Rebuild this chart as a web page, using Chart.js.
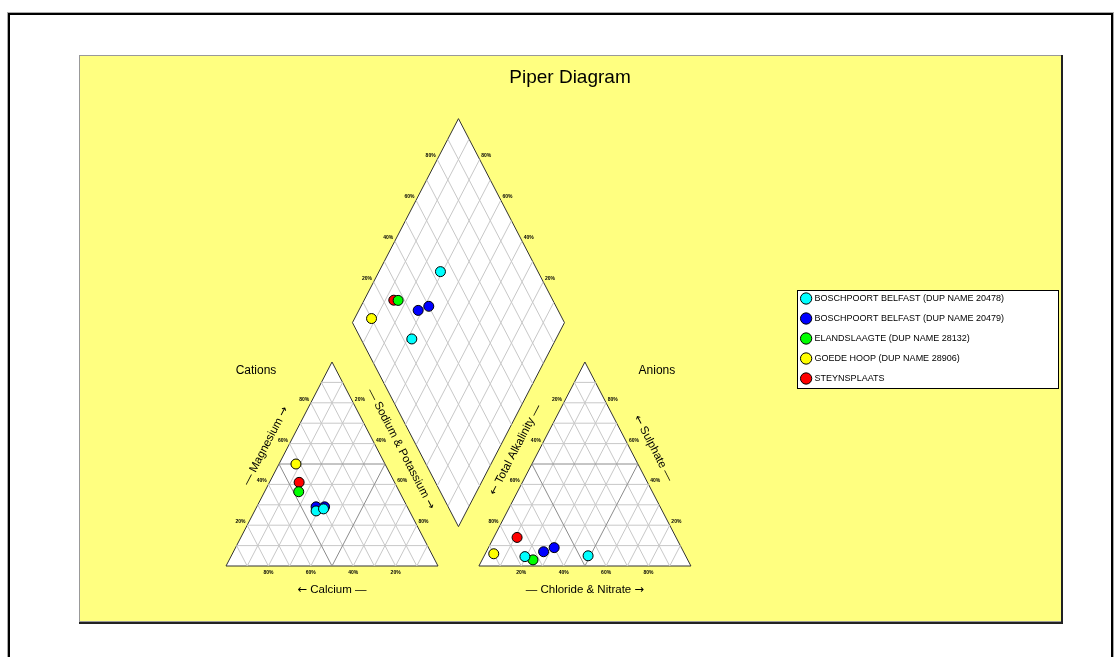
<!DOCTYPE html>
<html>
<head>
<meta charset="utf-8">
<title>Piper Diagram</title>
<script src="https://cdn.jsdelivr.net/npm/chart.js@4"></script>
<style>
  html, body { margin: 0; padding: 0; background: #fff; }
  #wrap { width: 1120px; height: 657px; }
</style>
</head>
<body>
<div id="wrap"><canvas id="piperChart"></canvas></div>
<script>
const samples = [
    'BOSCHPOORT BELFAST (DUP NAME 20478)',
    'BOSCHPOORT BELFAST (DUP NAME 20479)',
    'ELANDSLAAGTE (DUP NAME 28132)',
    'GOEDE HOOP (DUP NAME 28906)',
    'STEYNSPLAATS'
];
const colors = ['#00ffff', '#0000ff', '#00ff00', '#ffff00', '#ff0000'];

// one entry per analysis (meq %), sampleOf points into samples
const sampleOf        = [0, 0, 1, 1, 2, 3, 4];
const calcium         = [44, 40, 43, 39, 47.5, 42, 45];
const magnesium       = [27, 28, 29, 29, 36.4, 50, 41];
const sodiumPotassium = [29, 32, 28, 32, 16.1, 8, 14];
const alkalinity      = [46, 76, 66, 60, 73, 90, 75];
const sulphate        = [5, 4.6, 7, 9, 3, 6, 14];
const chlorideNitrate = [49, 19.4, 27, 31, 24, 4, 11];

const tickValues = [20, 40, 60, 80];

// layout: pixel of the 100% calcium corner, pixels per triangle width / height
const X0 = 226, Y0 = 566, PX = 212, PY = 204;
const GAP = 0.193; // gap between the two triangles (in triangle widths)
const AN = 1 + GAP; // x offset of the anion triangle

// ternary helpers, in triangle units (base = 1 wide, apex = 1 high)
function tri(ox, right, top) { return { x: ox + right + top / 2, y: top }; }
function diamond(nak, alk) { return { x: 1 + GAP / 2 + (nak - alk) / 2, y: GAP + 2 - nak - alk }; }

const sampleSets = samples.map((name, s) => {
    const data = [];
    sampleOf.forEach((k, i) => {
        if (k !== s) return;
        const cs = calcium[i] + magnesium[i] + sodiumPotassium[i];
        const as = alkalinity[i] + sulphate[i] + chlorideNitrate[i];
        const mg = magnesium[i] / cs, nak = sodiumPotassium[i] / cs;
        const so4 = sulphate[i] / as, cl = chlorideNitrate[i] / as, alk = alkalinity[i] / as;
        data.push(tri(0, nak, mg), tri(AN, cl, so4), diamond(nak, alk));
    });
    return {
        label: name, data,
        backgroundColor: colors[s], borderColor: '#000', borderWidth: 1,
        pointRadius: 5, pointHoverRadius: 5, order: 0
    };
});

// grid lines, broken with NaN points
const BREAK = { x: NaN, y: NaN };
const gridLight = [], gridMid = [], outline = [];
function seg(arr, a, b) { arr.push(a, b, BREAK); }
[0, AN].forEach(ox => {
    for (let k = 1; k < 10; k++) {
        const t = k / 10, arr = k === 5 ? gridMid : gridLight;
        seg(arr, tri(ox, 0, t), tri(ox, 1 - t, t));
        seg(arr, tri(ox, t, 0), tri(ox, t, 1 - t));
        seg(arr, tri(ox, 1 - t, 0), tri(ox, 0, 1 - t));
    }
    outline.push(tri(ox, 0, 0), tri(ox, 1, 0), tri(ox, 0, 1), tri(ox, 0, 0), BREAK);
});
for (let k = 1; k < 10; k++) {
    const t = k / 10;
    seg(gridLight, diamond(t, 0), diamond(t, 1));
    seg(gridLight, diamond(0, t), diamond(1, t));
}
outline.push(diamond(0, 0), diamond(1, 0), diamond(1, 1), diamond(0, 1), diamond(0, 0), BREAK);

function lineSet(data, color, order) {
    return { data, showLine: true, borderColor: color, borderWidth: 1, pointRadius: 0, pointHoverRadius: 0, fill: false, order };
}

const FONT = "'Liberation Sans', Arial, sans-serif";
const ARROW_FONT = "'DejaVu Sans', sans-serif";

// draws pieces of text side by side, centred on (0,0); arrows get their own font
function drawParts(ctx, parts, size) {
    const fonts = parts.map(p => (/[\u2190\u2192]/.test(p) ? size + 'px ' + ARROW_FONT : size + 'px ' + FONT));
    const widths = parts.map((p, i) => { ctx.font = fonts[i]; return ctx.measureText(p).width; });
    let cx = -widths.reduce((a, b) => a + b, 0) / 2;
    ctx.textAlign = 'left';
    parts.forEach((p, i) => { ctx.font = fonts[i]; ctx.fillText(p, cx, 0); cx += widths[i]; });
    ctx.textAlign = 'center';
}

const piperDecor = {
    id: 'piperDecor',
    afterLayout(chart) {
        const a = chart.chartArea, x = chart.scales.x, y = chart.scales.y;
        x.min = (a.left - X0) / PX; x.max = (a.right - X0) / PX; x.configure();
        y.min = (Y0 - a.bottom) / PY; y.max = (Y0 - a.top) / PY; y.configure();
    },
    beforeDraw(chart) {
        const ctx = chart.ctx, x = chart.scales.x, y = chart.scales.y;
        const P = p => [x.getPixelForValue(p.x), y.getPixelForValue(p.y)];
        ctx.save();
        // outer frame
        ctx.strokeStyle = '#aaa'; ctx.lineWidth = 1;
        ctx.strokeRect(7.5, 12.5, 1106, 700);
        ctx.strokeStyle = '#000'; ctx.lineWidth = 2;
        ctx.strokeRect(9, 14, 1103, 700);
        // yellow panel
        ctx.fillStyle = '#ffff80';
        ctx.fillRect(79, 55, 983, 567);
        ctx.strokeStyle = '#999'; ctx.lineWidth = 1;
        ctx.strokeRect(79.5, 55.5, 982, 566);
        ctx.strokeStyle = '#222'; ctx.lineWidth = 2;
        ctx.beginPath(); ctx.moveTo(1062, 55); ctx.lineTo(1062, 623); ctx.lineTo(79, 623); ctx.stroke();
        // white shapes
        ctx.fillStyle = '#fff';
        const shapes = [
            [tri(0, 0, 0), tri(0, 1, 0), tri(0, 0, 1)],
            [tri(AN, 0, 0), tri(AN, 1, 0), tri(AN, 0, 1)],
            [diamond(0, 0), diamond(1, 0), diamond(1, 1), diamond(0, 1)]
        ];
        shapes.forEach(sh => {
            ctx.beginPath();
            sh.forEach((p, i) => { const q = P(p); i ? ctx.lineTo(q[0], q[1]) : ctx.moveTo(q[0], q[1]); });
            ctx.closePath(); ctx.fill();
        });
        // legend box
        const lg = chart.legend;
        if (lg && lg.legendHitBoxes && lg.legendHitBoxes.length) {
            const h = lg.legendHitBoxes[0];
            const bx = Math.round(h.left - 5) + 0.5, by = Math.round(h.top - 4) + 0.5;
            ctx.fillStyle = '#fff';
            ctx.fillRect(bx, by, 261, 98);
            ctx.strokeStyle = '#000'; ctx.lineWidth = 1;
            ctx.strokeRect(bx, by, 261, 98);
        }
        ctx.restore();
    },
    afterDraw(chart) {
        const ctx = chart.ctx, x = chart.scales.x, y = chart.scales.y;
        const P = p => [x.getPixelForValue(p.x), y.getPixelForValue(p.y)];
        ctx.save();
        ctx.fillStyle = '#000';
        ctx.textAlign = 'center';
        ctx.textBaseline = 'middle';

        ctx.font = '19px ' + FONT;
        ctx.fillText('Piper Diagram', 570, 78);

        // tick labels
        ctx.font = 'bold 5px ' + FONT;
        const L = [-0.887, -0.461], R = [0.887, -0.461], D = 7.5;
        const tick = (p, n, txt) => { const q = P(p); ctx.fillText(txt, q[0] + n[0] * D, q[1] + n[1] * D); };
        const below = (p, txt) => { const q = P(p); ctx.fillText(txt, q[0], q[1] + 7); };
        tickValues.forEach(v => {
            const t = v / 100, txt = v + '%';
            tick(tri(0, 0, t), L, txt);
            tick(tri(0, t, 1 - t), R, txt);
            below(tri(0, 1 - t, 0), txt);
            tick(tri(AN, 0, 1 - t), L, txt);
            tick(tri(AN, 1 - t, t), R, txt);
            below(tri(AN, t, 0), txt);
            tick(diamond(0, 1 - t), L, txt);
            tick(diamond(1 - t, 0), R, txt);
        });

        // axis titles
        const edgeText = (parts, a, b, off, shift) => {
            const pa = P(a), pb = P(b);
            const dx = pb[0] - pa[0], dy = pb[1] - pa[1], len = Math.hypot(dx, dy);
            const d = [dx / len, dy / len], up = [d[1], -d[0]];
            const cx = (pa[0] + pb[0]) / 2 + up[0] * off + d[0] * shift;
            const cy = (pa[1] + pb[1]) / 2 + up[1] * off + d[1] * shift;
            ctx.save();
            ctx.translate(cx, cy);
            ctx.rotate(Math.atan2(dy, dx));
            drawParts(ctx, parts, 11.5);
            ctx.restore();
        };
        edgeText(['\u2014 Magnesium ', '\u2192'], tri(0, 0, 0), tri(0, 0, 1), 20, 10);
        edgeText(['\u2014 Sodium & Potassium ', '\u2192'], tri(0, 0, 1), tri(0, 1, 0), 21, -6);
        edgeText(['\u2190', ' Total Alkalinity \u2014'], tri(AN, 0, 0), tri(AN, 0, 1), 21, 5);
        edgeText(['\u2190', ' Sulphate \u2014'], tri(AN, 0, 1), tri(AN, 1, 0), 21, -7);
        let q = P(tri(0, 0.5, 0));
        ctx.save(); ctx.translate(q[0], q[1] + 24);
        drawParts(ctx, ['\u2190', ' Calcium \u2014'], 11.5);
        ctx.restore();
        q = P(tri(AN, 0.5, 0));
        ctx.save(); ctx.translate(q[0], q[1] + 24);
        drawParts(ctx, ['\u2014 Chloride & Nitrate ', '\u2192'], 11.5);
        ctx.restore();

        ctx.font = '12px ' + FONT;
        q = P(tri(0, 0, 1));
        ctx.fillText('Cations', q[0] - 76, q[1] + 9);
        q = P(tri(AN, 0, 1));
        ctx.fillText('Anions', q[0] + 72, q[1] + 9);
        ctx.restore();
    }
};

Chart.defaults.font.family = FONT;

new Chart(document.getElementById('piperChart'), {
    type: 'scatter',
    data: {
        datasets: [
            ...sampleSets,
            lineSet(gridMid, '#8c8c8c', 1),
            lineSet(gridLight, '#c8c8c8', 2),
            lineSet(outline, '#333', 3)
        ]
    },
    options: {
        responsive: true,
        maintainAspectRatio: false,
        animation: false,
        events: [],
        layout: { padding: { left: 79, top: 55, right: 106, bottom: 35 } },
        scales: {
            x: { type: 'linear', display: false, min: -0.69, max: 2.7 },
            y: { type: 'linear', display: false, min: -0.27, max: 2.5 }
        },
        plugins: {
            title: { display: false },
            tooltip: { enabled: false },
            legend: {
                position: 'right',
                labels: {
                    usePointStyle: true,
                    boxWidth: 8,
                    boxHeight: 8,
                    padding: 11,
                    color: '#000',
                    font: { size: 9 },
                    filter: item => item.datasetIndex < samples.length
                }
            }
        }
    },
    plugins: [piperDecor]
});
</script>
</body>
</html>
